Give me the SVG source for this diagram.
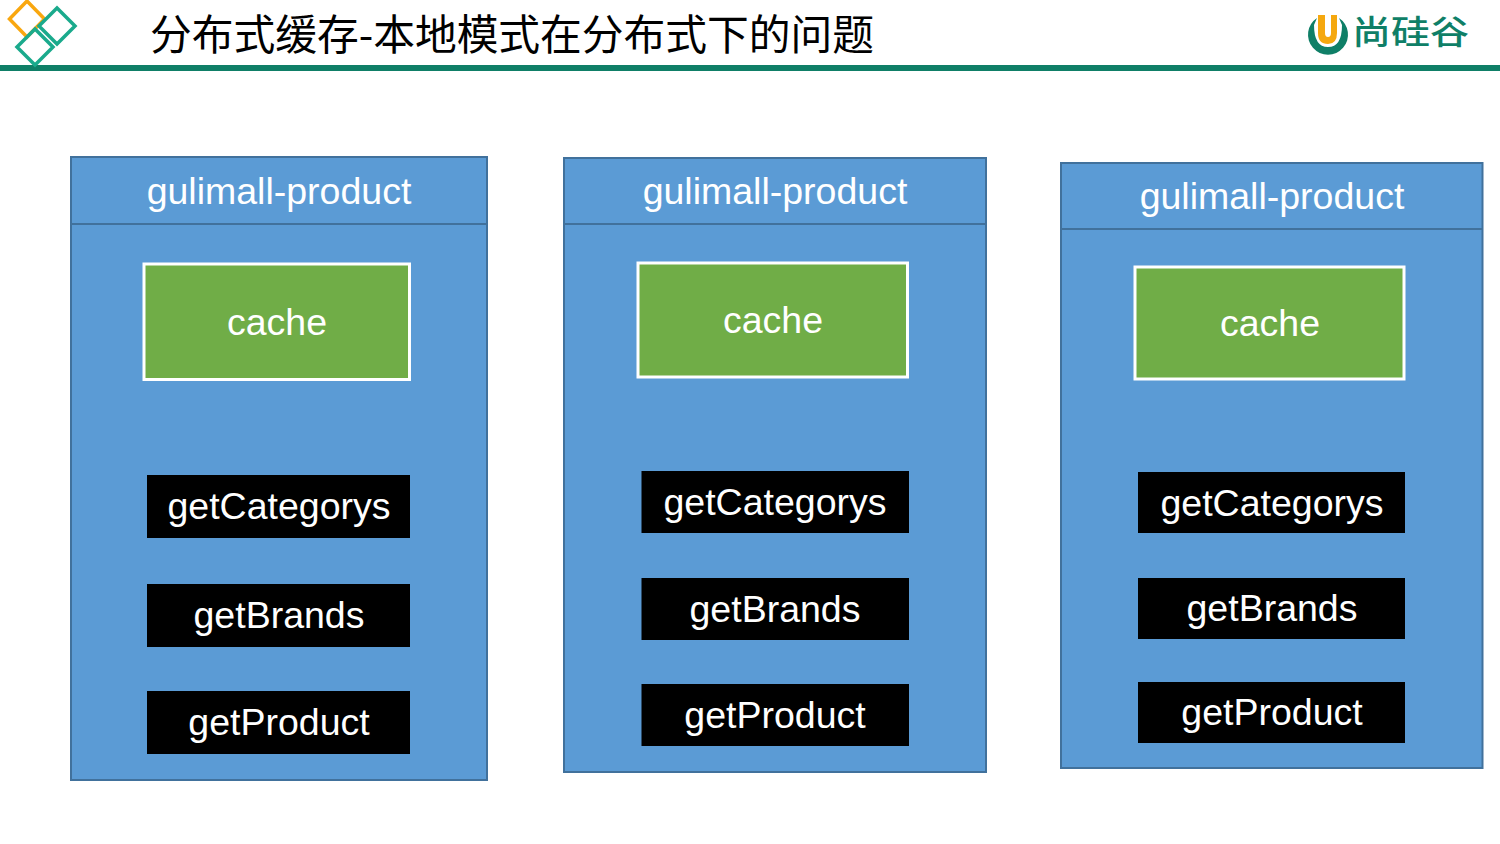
<svg xmlns="http://www.w3.org/2000/svg" width="1500" height="844" viewBox="0 0 1500 844">
<style>
.svc{fill:#5b9bd5;stroke:#41719c;stroke-width:2}
.hd{stroke:#41719c;stroke-width:2;fill:none}
.cache{fill:#70ad47;stroke:#fff;stroke-width:3}
.fn{fill:#000}
text{font-family:"Liberation Sans",Arial,sans-serif;font-size:37.500px;fill:#fff;text-anchor:middle}
.title{font-family:"Noto Sans CJK SC","Noto Sans CJK JP",sans-serif;font-size:42px;fill:#000;text-anchor:start;font-weight:400}
.logo{font-family:"Noto Sans CJK SC",sans-serif;font-size:33px;fill:#0f7f67;text-anchor:start;font-weight:500}
</style>
<rect width="1500" height="844" fill="#fff"/>
<g id="header">
<rect x="0" y="65" width="1500" height="6" fill="#0f7f67"/>
<path d="M27 1L44.500 19L27 37L9.500 19Z" fill="none" stroke="#f9a70f" stroke-width="3.500"/>
<path d="M57 8L75 26L57 44L39 26Z" fill="none" stroke="#1aaa8c" stroke-width="3.500"/>
<path d="M35 29L53 47L35 65L17 47Z" fill="none" stroke="#1aaa8c" stroke-width="3.500"/>
<text class="title" x="150" y="50" textLength="724" lengthAdjust="spacingAndGlyphs">分布式缓存-本地模式在分布式下的问题</text>
<path d="M1317 18A20 20 0 1 0 1339 18L1342 25Q1342 47 1328 47Q1314 47 1314 25Z" fill="#0f7f67"/>
<path d="M1318 15H1325V33Q1325 37 1328 37Q1331 37 1331 33V15H1337V33Q1337 44 1328 44Q1318 44 1318 33Z" fill="#f5a80f"/>
<text class="logo" x="1352" y="44" textLength="117" lengthAdjust="spacingAndGlyphs">尚硅谷</text>
</g>
<g id="service-1">
<rect class="svc" x="71" y="157" width="416" height="623"/>
<path class="hd" d="M71 224H487"/>
<text x="279" y="204">gulimall-product</text>
</g>
<g id="cache-1"><rect class="cache" x="144" y="264" width="265.500" height="115.500"/><text x="277" y="335">cache</text></g>
<g id="getCategorys-1"><rect class="fn" x="147" y="475" width="263" height="63"/><text x="279" y="519">getCategorys</text></g>
<g id="getBrands-1"><rect class="fn" x="147" y="584" width="263" height="63"/><text x="279" y="628">getBrands</text></g>
<g id="getProduct-1"><rect class="fn" x="147" y="691" width="263" height="63"/><text x="279" y="735">getProduct</text></g>
<g id="service-2">
<rect class="svc" x="564" y="158" width="422" height="614"/>
<path class="hd" d="M564 224H986"/>
<text x="775" y="204">gulimall-product</text>
</g>
<g id="cache-2"><rect class="cache" x="638" y="263" width="269.500" height="114"/><text x="773" y="333">cache</text></g>
<g id="getCategorys-2"><rect class="fn" x="641.500" y="471" width="267.500" height="62"/><text x="775" y="515">getCategorys</text></g>
<g id="getBrands-2"><rect class="fn" x="641.500" y="578" width="267.500" height="62"/><text x="775" y="622">getBrands</text></g>
<g id="getProduct-2"><rect class="fn" x="641.500" y="684" width="267.500" height="62"/><text x="775" y="728">getProduct</text></g>
<g id="service-3">
<rect class="svc" x="1061" y="163" width="421.500" height="605"/>
<path class="hd" d="M1061 229H1483"/>
<text x="1272" y="209">gulimall-product</text>
</g>
<g id="cache-3"><rect class="cache" x="1135" y="267" width="269" height="112"/><text x="1270" y="336">cache</text></g>
<g id="getCategorys-3"><rect class="fn" x="1138" y="472" width="267" height="61"/><text x="1272" y="516">getCategorys</text></g>
<g id="getBrands-3"><rect class="fn" x="1138" y="578" width="267" height="61"/><text x="1272" y="621">getBrands</text></g>
<g id="getProduct-3"><rect class="fn" x="1138" y="682" width="267" height="61"/><text x="1272" y="725">getProduct</text></g>
<g id="connectors"/>
</svg>
